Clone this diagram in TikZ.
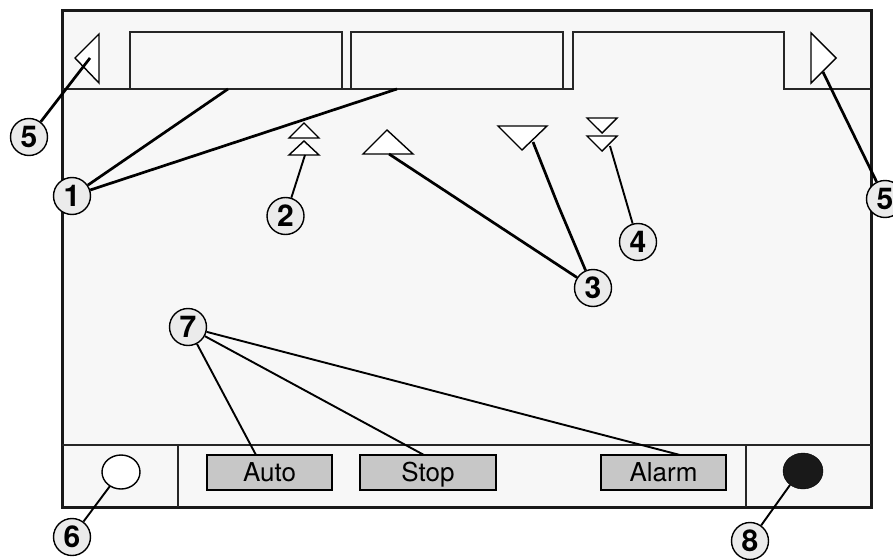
\documentclass[tikz,border=0pt]{standalone}
\usepackage{fontspec}
\setmainfont{TeX Gyre Heros}
\usetikzlibrary{shapes.geometric}
\begin{document}
\begin{tikzpicture}[x=1pt,y=-1pt,
  panel/.style={line width=1.4pt,draw=black!85},
  frame/.style={line width=3pt,draw=black!90,fill=black!3},
  btn/.style={draw=black,line width=2.8pt,fill=black!22,minimum height=35pt,inner sep=0pt,
              text height=18.5pt,text depth=0pt,
              font=\fontsize{26}{30}\selectfont},
  callout/.style={circle,draw=black,line width=1.4pt,fill=black!8,minimum size=37pt,inner sep=0pt,
              text height=21pt,text depth=0pt,
              font=\fontsize{30}{34}\selectfont\bfseries},
  heavy/.style={line width=2.7pt,black},
  light/.style={line width=1.9pt,black},
  sym/.style={line width=1.4pt,draw=black,fill=white,line join=miter}]
\useasboundingbox (0,0) rectangle (893,559);
% screen frame
\draw[frame] (62,11) rectangle (871,507);
% tab row
\draw[panel] (130,89) -- (130,32) -- (342,32) -- (342,89);
\draw[panel] (351,89) -- (351,32) -- (563,32) -- (563,89);
\draw[panel] (62,89) -- (573,89) -- (573,32) -- (784,32) -- (784,89) -- (871,89);
% scroll arrows
\draw[sym] (99,34) -- (75,58) -- (99,83) -- cycle;
\draw[sym] (811,33) -- (836,58) -- (811,83) -- cycle;
% status bar
\draw[panel] (62,445) -- (871,445);
\draw[panel] (178,445) -- (178,507);
\draw[panel] (746,445) -- (746,507);
% indicators
\node[draw=black,line width=1.4pt,fill=white,ellipse,minimum width=38pt,minimum height=34pt,inner sep=0pt] (lampoff) at (121,472) {};
\node[draw=black,fill=black!90,ellipse,minimum width=40pt,minimum height=36pt,inner sep=0pt] (lampon) at (803,471) {};
% buttons
\node[btn,minimum width=125pt] (auto) at (269.5,472.5) {Auto};
\node[btn,minimum width=136pt] (stop) at (428,472.5) {Stop};
\node[btn,minimum width=125pt] (alarm) at (663.5,472.5) {Alarm};
% trend symbols
\draw[sym] (289,138) -- (304,123) -- (319,138) -- cycle;
\draw[sym] (289,155) -- (304,141) -- (319,155) -- cycle;
\draw[sym] (363,154) -- (387,130) -- (413,154) -- cycle;
\draw[sym] (498,126) -- (547,126) -- (522,150) -- cycle;
\draw[sym] (587,118) -- (617,118) -- (602,133) -- cycle;
\draw[sym] (587,136) -- (617,136) -- (602,151) -- cycle;
% anchor points of the leader lines
\coordinate (tabA) at (228,89);
\coordinate (tabB) at (397,89);
\coordinate (dblup) at (305,155);
\coordinate (up) at (389,154);
\coordinate (down) at (533,142);
\coordinate (bend) at (558,205);
\coordinate (dbldown) at (610,146);
\coordinate (arrL) at (90,58);
\coordinate (arrR) at (823,72);
\coordinate (autoT) at (256,455);
\coordinate (stopT) at (424,455);
\coordinate (alarmT) at (680,455);
\coordinate (offP) at (110,486);
\coordinate (onP) at (790,485);
% callouts
\node[callout] (n1) at (72,196) {1};
\node[callout] (n2) at (285.5,216) {2};
\node[callout] (n3) at (593,288) {3};
\node[callout] (n4) at (638,242) {4};
\node[callout] (n5a) at (29,137) {5};
\node[callout] (n5b) at (885,199) {5};
\node[callout] (n6) at (72,537) {6};
\node[callout] (n7) at (188,327) {7};
\node[callout] (n8) at (750,541) {8};
% leader lines
\draw[heavy] (n1) -- (tabA);
\draw[heavy] (n1) -- (tabB);
\draw[light] (n2) -- (dblup);
\draw[heavy] (n3) -- (up);
\draw[heavy] (n3) -- (bend) -- (down);
\draw[light] (n4) -- (dbldown);
\draw[heavy] (n5a) -- (arrL);
\draw[heavy] (n5b) -- (arrR);
\draw[light] (n6) -- (offP);
\draw[light] (n7) -- (autoT);
\draw[light] (n7) -- (stopT);
\draw[light] (n7) -- (alarmT);
\draw[light] (n8) -- (onP);
\end{tikzpicture}
\end{document}
